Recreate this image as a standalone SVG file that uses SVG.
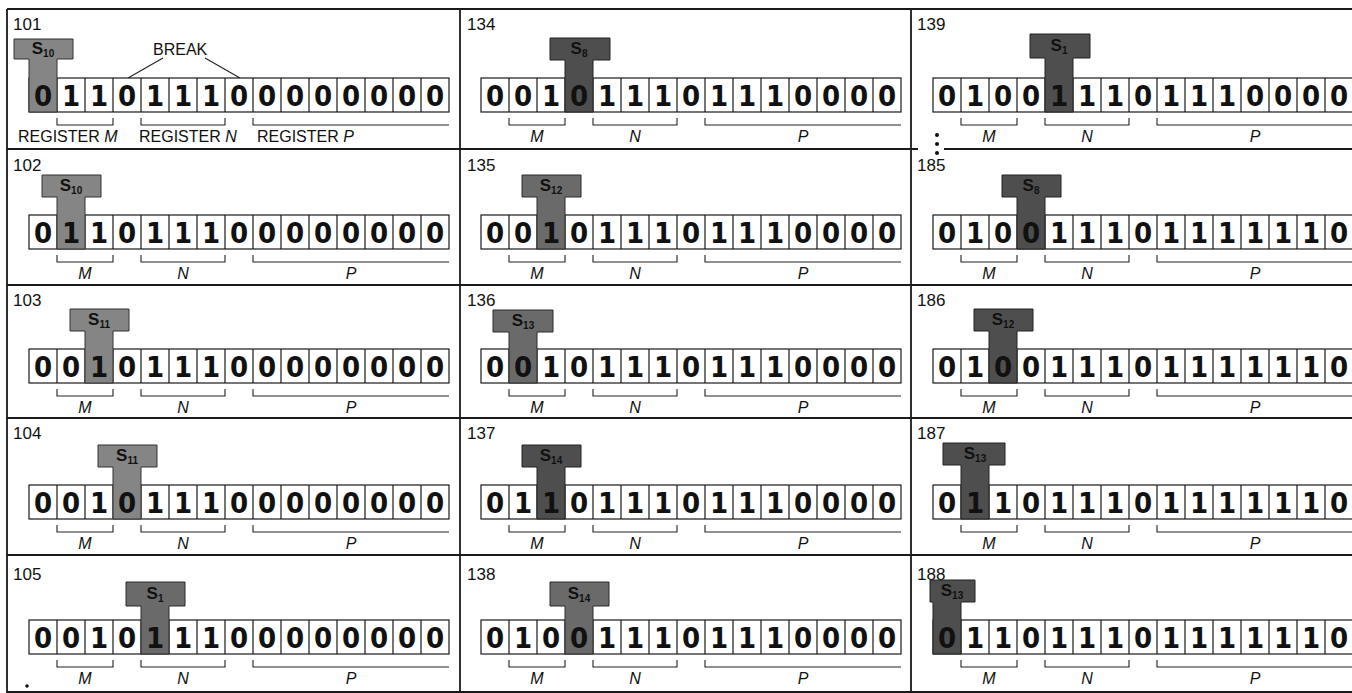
<svg xmlns="http://www.w3.org/2000/svg" xmlns:xlink="http://www.w3.org/1999/xlink" width="1352" height="693" viewBox="0 0 1352 693">
<style>
.grid{stroke:#1a1a1a;stroke-width:1.8;fill:none}
.cell{fill:#fff;stroke:#1a1a1a;stroke-width:1.2}
.d{font-family:"DejaVu Sans Condensed","DejaVu Sans",sans-serif;font-stretch:condensed;font-weight:bold;font-size:29px;fill:#111;text-anchor:middle}
.num{font-family:"Liberation Sans",Arial,sans-serif;font-size:17px;fill:#111}
.reg{font-family:"Liberation Sans",Arial,sans-serif;font-size:16px;fill:#111}
.lab{font-family:"Liberation Sans",Arial,sans-serif;font-size:16px;font-style:italic;fill:#111;text-anchor:middle}
.br{stroke:#222;stroke-width:1.1;fill:none}
.hl{fill:#858585;stroke:#333;stroke-width:1}
.hm{fill:#6a6a6a;stroke:#2a2a2a;stroke-width:1}
.hd{fill:#4e4e4e;stroke:#222;stroke-width:1}
.s{font-family:"Liberation Sans",Arial,sans-serif;font-weight:bold;font-size:17px;fill:#111;text-anchor:middle}
.sub{font-size:10px}
</style>
<defs>
<g id="tape">
<rect class="cell" x="0" y="0" width="420" height="34"/>
<path class="cell" d="M28 0V34M56 0V34M84 0V34M112 0V34M140 0V34M168 0V34M196 0V34M224 0V34M252 0V34M280 0V34M308 0V34M336 0V34M364 0V34M392 0V34"/>
</g>
<path id="brk" class="br" d="M28 40V47H84V40M112 40V47H196V40M224 40V47H420"/>
</defs>

<g id="connectors">
<path class="grid" d="M7 9H1352M7 149H460M460 149H911M911 149H918M944 149H1352M7 285H1352M7 418H1352M7 555H1352M7 692H1352M7 9V693M460 9V693M911 9V693"/>
<path class="br" d="M163 58L128 78M205 58L240 78"/>
</g>

<!-- Column 1 -->
<g id="s101" transform="translate(29,78)">
<text class="num" x="-16" y="-48">101</text>
<use xlink:href="#tape" href="#tape"/>
<path class="hl" d="M-15 -39H44V-19H28V34H0V-19H-15Z"/>
<text class="d" x="14 42 70 98 126 154 182 210 238 266 294 322 350 378 406" y="28">011011100000000</text>
<text class="s" x="14" y="-24">S<tspan class="sub" dy="3">10</tspan></text>
<use xlink:href="#brk" href="#brk"/>
<text class="reg" x="-11" y="64">REGISTER <tspan font-style="italic">M</tspan></text>
<text class="reg" x="110" y="64">REGISTER <tspan font-style="italic">N</tspan></text>
<text class="reg" x="228" y="64">REGISTER <tspan font-style="italic">P</tspan></text>
<text class="reg" x="124" y="-23">BREAK</text>
</g>

<g id="s102" transform="translate(29,215)">
<text class="num" x="-16" y="-44">102</text>
<use xlink:href="#tape" href="#tape"/>
<path class="hl" d="M13 -40H72V-18H56V34H28V-18H13Z"/>
<text class="d" x="14 42 70 98 126 154 182 210 238 266 294 322 350 378 406" y="28">011011100000000</text>
<text class="s" x="42" y="-24">S<tspan class="sub" dy="3">10</tspan></text>
<use xlink:href="#brk" href="#brk"/>
<text class="lab" x="56" y="64">M</text><text class="lab" x="154" y="64">N</text><text class="lab" x="322" y="64">P</text>
</g>

<g id="s103" transform="translate(29,349)">
<text class="num" x="-16" y="-43">103</text>
<use xlink:href="#tape" href="#tape"/>
<path class="hl" d="M41 -40H100V-18H84V34H56V-18H41Z"/>
<text class="d" x="14 42 70 98 126 154 182 210 238 266 294 322 350 378 406" y="28">001011100000000</text>
<text class="s" x="70" y="-24">S<tspan class="sub" dy="3">11</tspan></text>
<use xlink:href="#brk" href="#brk"/>
<text class="lab" x="56" y="64">M</text><text class="lab" x="154" y="64">N</text><text class="lab" x="322" y="64">P</text>
</g>

<g id="s104" transform="translate(29,485)">
<text class="num" x="-16" y="-46">104</text>
<use xlink:href="#tape" href="#tape"/>
<path class="hl" d="M69 -40H128V-18H112V34H84V-18H69Z"/>
<text class="d" x="14 42 70 98 126 154 182 210 238 266 294 322 350 378 406" y="28">001011100000000</text>
<text class="s" x="98" y="-24">S<tspan class="sub" dy="3">11</tspan></text>
<use xlink:href="#brk" href="#brk"/>
<text class="lab" x="56" y="64">M</text><text class="lab" x="154" y="64">N</text><text class="lab" x="322" y="64">P</text>
</g>

<g id="s105" transform="translate(29,620)">
<text class="num" x="-16" y="-40">105</text>
<use xlink:href="#tape" href="#tape"/>
<path class="hm" d="M97 -38H156V-14H140V34H112V-14H97Z"/>
<text class="d" x="14 42 70 98 126 154 182 210 238 266 294 322 350 378 406" y="28">001011100000000</text>
<text class="s" x="126" y="-21">S<tspan class="sub" dy="3">1</tspan></text>
<use xlink:href="#brk" href="#brk"/>
<text class="lab" x="56" y="64">M</text><text class="lab" x="154" y="64">N</text><text class="lab" x="322" y="64">P</text>
<circle cx="-2" cy="66" r="1.8" fill="#111"/>
</g>

<!-- Column 2 -->
<g id="s134" transform="translate(481,78)">
<text class="num" x="-14" y="-48">134</text>
<use xlink:href="#tape" href="#tape"/>
<path class="hd" d="M69 -40H129V-18H112V34H84V-18H69Z"/>
<text class="d" x="14 42 70 98 126 154 182 210 238 266 294 322 350 378 406" y="28">001011101110000</text>
<text class="s" x="98" y="-24">S<tspan class="sub" dy="3">8</tspan></text>
<use xlink:href="#brk" href="#brk"/>
<text class="lab" x="56" y="64">M</text><text class="lab" x="154" y="64">N</text><text class="lab" x="322" y="64">P</text>
</g>

<g id="s135" transform="translate(481,215)">
<text class="num" x="-14" y="-44">135</text>
<use xlink:href="#tape" href="#tape"/>
<path class="hm" d="M41 -40H100V-18H84V34H56V-18H41Z"/>
<text class="d" x="14 42 70 98 126 154 182 210 238 266 294 322 350 378 406" y="28">001011101110000</text>
<text class="s" x="70" y="-24">S<tspan class="sub" dy="3">12</tspan></text>
<use xlink:href="#brk" href="#brk"/>
<text class="lab" x="56" y="64">M</text><text class="lab" x="154" y="64">N</text><text class="lab" x="322" y="64">P</text>
</g>

<g id="s136" transform="translate(481,349)">
<text class="num" x="-14" y="-43">136</text>
<use xlink:href="#tape" href="#tape"/>
<path class="hm" d="M12 -39H72V-17H56V34H28V-17H12Z"/>
<text class="d" x="14 42 70 98 126 154 182 210 238 266 294 322 350 378 406" y="28">001011101110000</text>
<text class="s" x="42" y="-23">S<tspan class="sub" dy="3">13</tspan></text>
<use xlink:href="#brk" href="#brk"/>
<text class="lab" x="56" y="64">M</text><text class="lab" x="154" y="64">N</text><text class="lab" x="322" y="64">P</text>
</g>

<g id="s137" transform="translate(481,485)">
<text class="num" x="-14" y="-46">137</text>
<use xlink:href="#tape" href="#tape"/>
<path class="hd" d="M41 -40H100V-18H84V34H56V-18H41Z"/>
<text class="d" x="14 42 70 98 126 154 182 210 238 266 294 322 350 378 406" y="28">011011101110000</text>
<text class="s" x="70" y="-24">S<tspan class="sub" dy="3">14</tspan></text>
<use xlink:href="#brk" href="#brk"/>
<text class="lab" x="56" y="64">M</text><text class="lab" x="154" y="64">N</text><text class="lab" x="322" y="64">P</text>
</g>

<g id="s138" transform="translate(481,620)">
<text class="num" x="-14" y="-40">138</text>
<use xlink:href="#tape" href="#tape"/>
<path class="hm" d="M69 -38H128V-14H112V34H84V-14H69Z"/>
<text class="d" x="14 42 70 98 126 154 182 210 238 266 294 322 350 378 406" y="28">010011101110000</text>
<text class="s" x="98" y="-21">S<tspan class="sub" dy="3">14</tspan></text>
<use xlink:href="#brk" href="#brk"/>
<text class="lab" x="56" y="64">M</text><text class="lab" x="154" y="64">N</text><text class="lab" x="322" y="64">P</text>
</g>

<!-- Column 3 -->
<g id="s139" transform="translate(933,78)">
<text class="num" x="-16" y="-48">139</text>
<use xlink:href="#tape" href="#tape"/>
<path class="hd" d="M97 -44H157V-20H140V34H112V-20H97Z"/>
<text class="d" x="14 42 70 98 126 154 182 210 238 266 294 322 350 378 406" y="28">010011101110000</text>
<text class="s" x="126" y="-27">S<tspan class="sub" dy="3">1</tspan></text>
<use xlink:href="#brk" href="#brk"/>
<text class="lab" x="56" y="64">M</text><text class="lab" x="154" y="64">N</text><text class="lab" x="322" y="64">P</text>
</g>

<g id="dots">
<circle cx="937" cy="135" r="2" fill="#111"/>
<circle cx="937" cy="144" r="2" fill="#111"/>
<circle cx="937" cy="153" r="2" fill="#111"/>
</g>

<g id="s185" transform="translate(933,215)">
<text class="num" x="-16" y="-44">185</text>
<use xlink:href="#tape" href="#tape"/>
<path class="hd" d="M69 -40H128V-18H112V34H84V-18H69Z"/>
<text class="d" x="14 42 70 98 126 154 182 210 238 266 294 322 350 378 406" y="28">010011101111110</text>
<text class="s" x="98" y="-24">S<tspan class="sub" dy="3">8</tspan></text>
<use xlink:href="#brk" href="#brk"/>
<text class="lab" x="56" y="64">M</text><text class="lab" x="154" y="64">N</text><text class="lab" x="322" y="64">P</text>
</g>

<g id="s186" transform="translate(933,349)">
<text class="num" x="-16" y="-43">186</text>
<use xlink:href="#tape" href="#tape"/>
<path class="hd" d="M41 -40H100V-18H84V34H56V-18H41Z"/>
<text class="d" x="14 42 70 98 126 154 182 210 238 266 294 322 350 378 406" y="28">010011101111110</text>
<text class="s" x="70" y="-24">S<tspan class="sub" dy="3">12</tspan></text>
<use xlink:href="#brk" href="#brk"/>
<text class="lab" x="56" y="64">M</text><text class="lab" x="154" y="64">N</text><text class="lab" x="322" y="64">P</text>
</g>

<g id="s187" transform="translate(933,485)">
<text class="num" x="-16" y="-46">187</text>
<use xlink:href="#tape" href="#tape"/>
<path class="hd" d="M10 -42H72V-20H56V34H28V-20H10Z"/>
<text class="d" x="14 42 70 98 126 154 182 210 238 266 294 322 350 378 406" y="28">011011101111110</text>
<text class="s" x="42" y="-26">S<tspan class="sub" dy="3">13</tspan></text>
<use xlink:href="#brk" href="#brk"/>
<text class="lab" x="56" y="64">M</text><text class="lab" x="154" y="64">N</text><text class="lab" x="322" y="64">P</text>
</g>

<g id="s188" transform="translate(933,620)">
<text class="num" x="-16" y="-40">188</text>
<use xlink:href="#tape" href="#tape"/>
<path class="hd" d="M-3 -40H42V-18H28V34H0V-18H-3Z"/>
<text class="d" x="14 42 70 98 126 154 182 210 238 266 294 322 350 378 406" y="28">011011101111110</text>
<text class="s" x="19" y="-24">S<tspan class="sub" dy="3">13</tspan></text>
<use xlink:href="#brk" href="#brk"/>
<text class="lab" x="56" y="64">M</text><text class="lab" x="154" y="64">N</text><text class="lab" x="322" y="64">P</text>
</g>
</svg>
